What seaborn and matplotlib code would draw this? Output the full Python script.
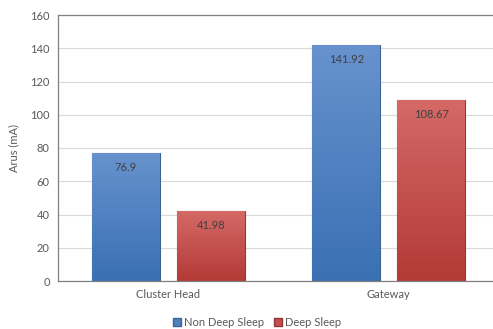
import numpy as np
import pandas as pd
import matplotlib
matplotlib.use("Agg")
import matplotlib.pyplot as plt
import seaborn as sns
from matplotlib.colors import LinearSegmentedColormap
from matplotlib.patches import Patch

categories = ["Cluster Head", "Gateway"]
series = ["Non Deep Sleep", "Deep Sleep"]
non_deep = [76.9, 141.92]
deep = [41.98, 108.67]
value_labels = {"Non Deep Sleep": ["76.9", "141.92"], "Deep Sleep": ["41.98", "108.67"]}

df = pd.DataFrame({
    "Category": categories * 2,
    "Series": [series[0]] * 2 + [series[1]] * 2,
    "Value": non_deep + deep,
})

sns.set_theme(style="white")
plt.rcParams["font.family"] = ["Lato", "DejaVu Sans"]

colors = {"Non Deep Sleep": "#4F81BD", "Deep Sleep": "#C0504D"}
grads = {
    "Non Deep Sleep": ("#6792CD", "#3A70B4"),
    "Deep Sleep": ("#D46966", "#B33A37"),
}
edges = {"Non Deep Sleep": "#3A6396", "Deep Sleep": "#943634"}

fig = plt.figure(figsize=(4.93, 3.29), dpi=100)
ax = fig.add_axes([58 / 493, 1 - 281 / 329, 441 / 493, 266 / 329])

sns.barplot(data=df, x="Category", y="Value", hue="Series", order=categories,
            hue_order=series, palette=colors, width=0.77, gap=0.2,
            ax=ax, legend=False, saturation=1)

ax.set_ylim(0, 160)
ax.set_yticks(range(0, 161, 20))
ax.yaxis.grid(True, color="#D9D9D9", linewidth=0.8)
ax.set_axisbelow(True)
for s in ax.spines.values():
    s.set_color("#808080")
    s.set_linewidth(0.9)
ax.spines["right"].set_visible(False)

# gradient fill on bars
for i, s in enumerate(series):
    cont = ax.containers[i]
    top, bot = grads[s]
    cmap = LinearSegmentedColormap.from_list("g", [bot, top])
    for patch, lab in zip(cont.patches, value_labels[s]):
        x0 = patch.get_x(); w = patch.get_width(); h = patch.get_height()
        patch.set_edgecolor(edges[s])
        patch.set_linewidth(0.8)
        grad = np.linspace(0, 1, 100).reshape(-1, 1)
        im = ax.imshow(grad, cmap=cmap, origin="lower", aspect="auto",
                       extent=[x0, x0 + w, 0, h], zorder=patch.get_zorder() + 0.1)
        im.set_clip_path(patch)
        ax.text(x0 + w / 2, h - 8.5, lab, ha="center", va="center",
                fontsize=8, color="#404040", zorder=5)

ax.set_xlim(-0.5, 1.5)
ax.set_xlabel("")
ax.set_ylabel("Arus (mA)", fontsize=8, color="#595959", labelpad=8)
ax.tick_params(axis="both", length=0, labelsize=8, colors="#595959", pad=6)

handles = [Patch(facecolor=colors[s], edgecolor=edges[s], label=s) for s in series]
fig.legend(handles=handles, loc="center", bbox_to_anchor=(257 / 493, 1 - 322 / 329),
           ncol=2, frameon=False, fontsize=8, handlelength=0.7, handleheight=0.7,
           handletextpad=0.3, columnspacing=0.9, labelcolor="#595959")

fig.savefig("out.png", dpi=100)
